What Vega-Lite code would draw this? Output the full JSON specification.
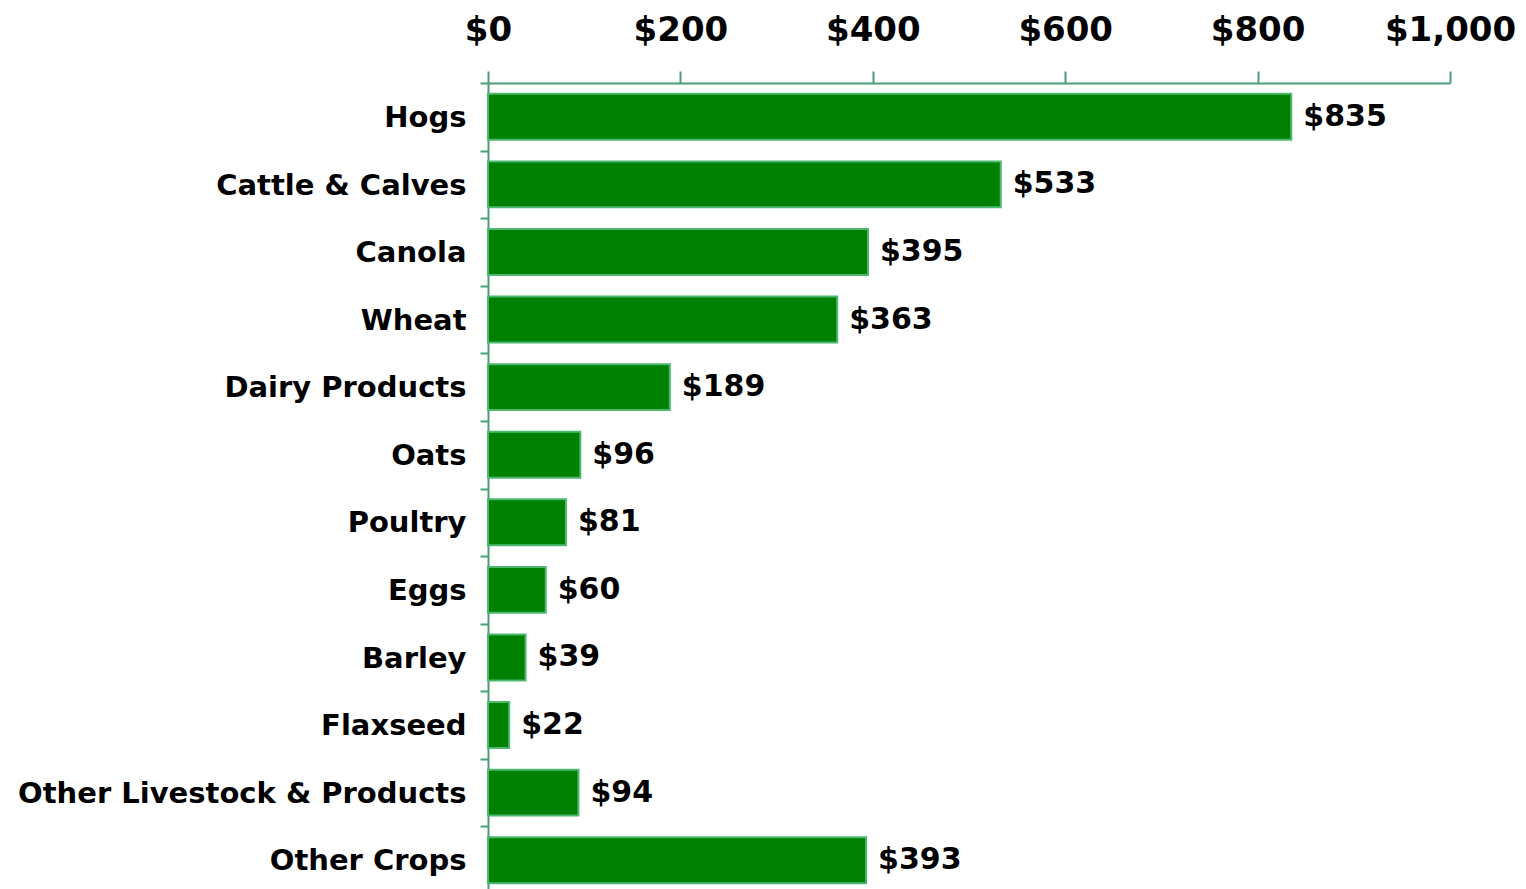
{
  "$schema": "https://vega.github.io/schema/vega-lite/v6.json",
  "autosize": {"type": "none"},
  "padding": {"left": 488, "top": 83, "right": 76, "bottom": 0},
  "width": 962,
  "height": 811,
  "background": "white",
  "config": {"view": {"stroke": null}},
  "data": {
    "values": [
      {"category": "Hogs", "value": 835},
      {"category": "Cattle & Calves", "value": 533},
      {"category": "Canola", "value": 395},
      {"category": "Wheat", "value": 363},
      {"category": "Dairy Products", "value": 189},
      {"category": "Oats", "value": 96},
      {"category": "Poultry", "value": 81},
      {"category": "Eggs", "value": 60},
      {"category": "Barley", "value": 39},
      {"category": "Flaxseed", "value": 22},
      {"category": "Other Livestock & Products", "value": 94},
      {"category": "Other Crops", "value": 393}
    ]
  },
  "encoding": {
    "y": {
      "field": "category",
      "type": "nominal",
      "sort": null,
      "scale": {"paddingInner": 0.32, "paddingOuter": 0.16},
      "axis": {
        "title": null,
        "domainColor": "#4a9e78",
        "domainWidth": 2,
        "tickColor": "#4a9e78",
        "tickWidth": 2,
        "tickSize": 8,
        "bandPosition": 0,
        "tickOffset": -10.8,
        "labelOffset": 11.5,
        "labelPadding": 14,
        "labelFont": "DejaVu Sans",
        "labelFontWeight": "bold",
        "labelFontSize": 29,
        "labelColor": "black",
        "labelLimit": 600
      }
    },
    "x": {
      "field": "value",
      "type": "quantitative",
      "scale": {"domain": [0, 1000], "nice": false},
      "axis": {
        "orient": "top",
        "title": null,
        "values": [0, 200, 400, 600, 800, 1000],
        "format": "$,.0f",
        "grid": false,
        "domainColor": "#4a9e78",
        "domainWidth": 2,
        "tickColor": "#4a9e78",
        "tickWidth": 2,
        "tickSize": 12,
        "labelPadding": 24,
        "labelFont": "DejaVu Sans",
        "labelFontWeight": "bold",
        "labelFontSize": 34,
        "labelColor": "black",
        "labelFlush": false,
        "labelOverlap": false
      }
    }
  },
  "layer": [
    {
      "mark": {"type": "bar", "color": "#008000", "stroke": "#4db870", "strokeWidth": 2}
    },
    {
      "mark": {
        "type": "text",
        "align": "left",
        "baseline": "middle",
        "dx": 12,
        "font": "DejaVu Sans",
        "fontWeight": "bold",
        "fontSize": 30,
        "color": "black"
      },
      "encoding": {
        "text": {"field": "value", "type": "quantitative", "format": "$,.0f"}
      }
    }
  ]
}
